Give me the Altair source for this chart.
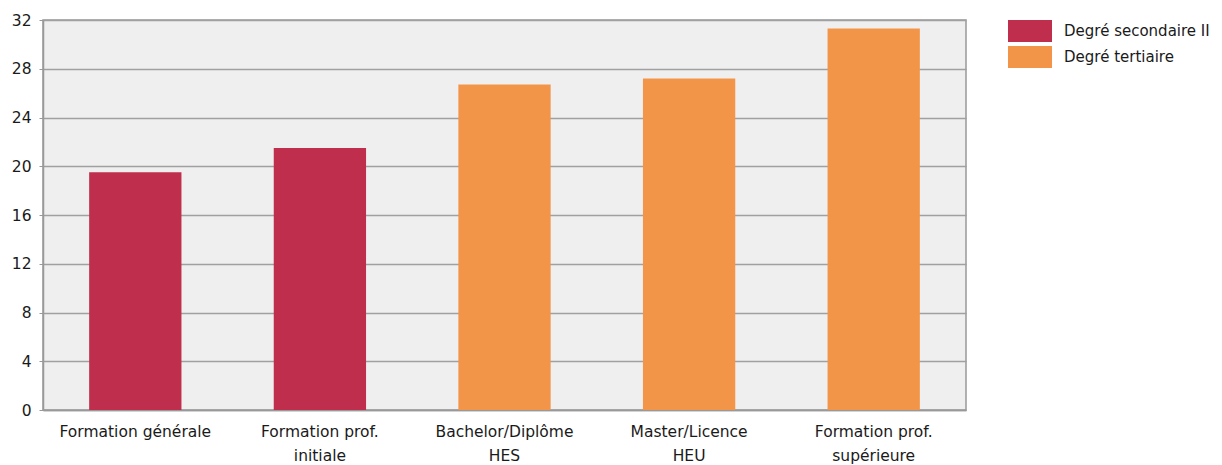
import altair as alt
import pandas as pd

categories = ["Formation générale", "Formation prof.|initiale", "Bachelor/Diplôme|HES",
              "Master/Licence|HEU", "Formation prof.|supérieure"]
values = [19.5, 21.5, 26.7, 27.2, 31.3]
levels = ["Degré secondaire II", "Degré secondaire II", "Degré tertiaire",
          "Degré tertiaire", "Degré tertiaire"]
y_ticks = [0, 4, 8, 12, 16, 20, 24, 28, 32]

df = pd.DataFrame({"cat": categories, "val": values, "level": levels})

FONT = "DejaVu Sans"

chart = alt.Chart(df).mark_bar().encode(
    x=alt.X("cat:N", sort=categories, title=None,
            scale=alt.Scale(paddingInner=0.5, paddingOuter=0.25),
            axis=alt.Axis(labelAngle=0, labelExpr="split(datum.label, '|')",
                          ticks=False, domain=True, domainColor="#999999", domainWidth=1.5,
                          labelFontSize=15.5, labelFont=FONT, labelColor="#1a1a1a",
                          labelPadding=14, labelLineHeight=24, grid=False)),
    y=alt.Y("val:Q", title=None,
            scale=alt.Scale(domain=[0, 32], nice=False),
            axis=alt.Axis(values=y_ticks, tickSize=4, tickColor="#999999", domainColor="#999999",
                          domainWidth=1.5, labelFontSize=15.5, labelFont=FONT, labelColor="#1a1a1a",
                          labelPadding=8, gridColor="#a0a0a0", gridWidth=1.3)),
    color=alt.Color("level:N", title=None,
                    scale=alt.Scale(domain=["Degré secondaire II", "Degré tertiaire"],
                                    range=["#BF2E4C", "#F39549"]),
                    legend=alt.Legend(orient="none", legendX=976, legendY=0,
                                      symbolType="M-2,-1L2,-1L2,1L-2,1Z", symbolSize=484,
                                      symbolStrokeWidth=0, symbolOpacity=1,
                                      labelFontSize=15, labelFont=FONT, labelColor="#1a1a1a",
                                      labelOffset=23, rowPadding=4, padding=0)),
).properties(
    width=923, height=390,
    padding={"left": 3, "top": 5, "right": 0, "bottom": 0},
).configure_view(
    fill="#efefef", stroke="#999999", strokeWidth=1.5
)

chart.save("out.html", embed_options={"renderer": "svg", "actions": False})
